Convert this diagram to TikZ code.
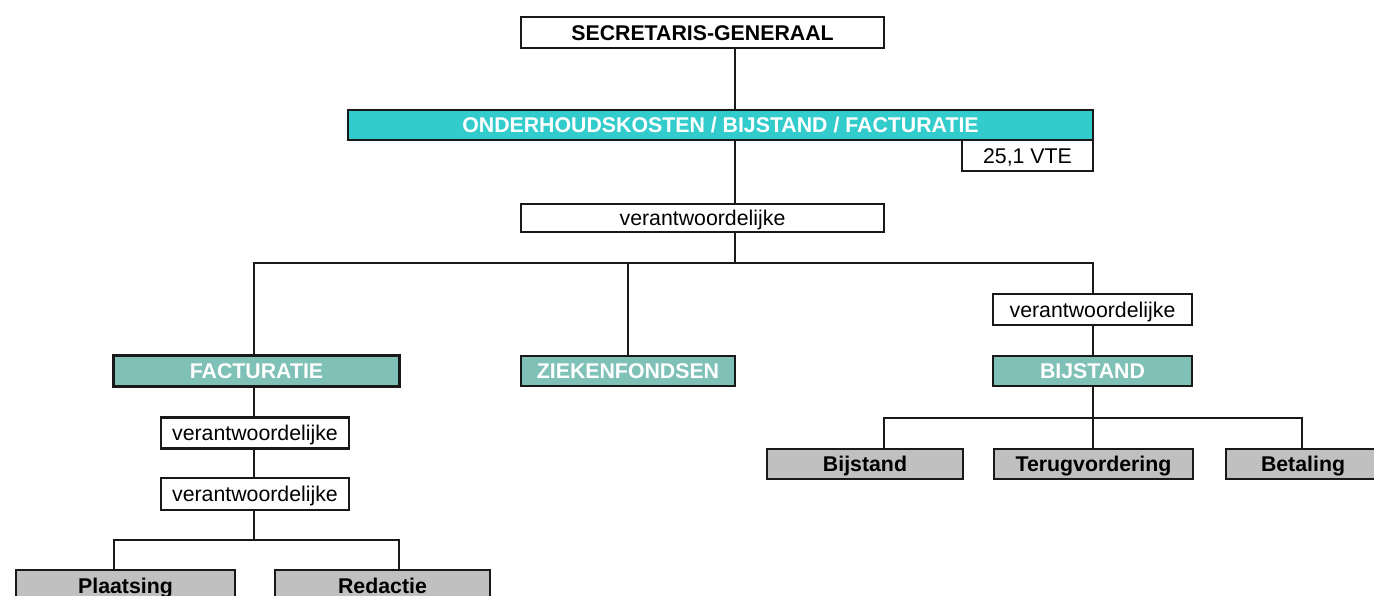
\documentclass[tikz,border=0pt]{standalone}
\usepackage{fontspec}
\setmainfont{Liberation Sans}
\definecolor{turq}{HTML}{33CCCC}
\definecolor{teal2}{HTML}{80C1B7}
\definecolor{grey2}{HTML}{C0C0C0}
\tikzset{
  box/.style={draw=black!90, line width=2.7pt, inner sep=0pt, align=center,
    font=\fontsize{21.3}{25}\selectfont, fill=white, text height=15.25pt, text depth=0pt},
  topbox/.style={box, font=\fontsize{21.3}{25}\selectfont\bfseries},
  mainbar/.style={box, fill=turq, text=white, font=\fontsize{21.3}{25}\selectfont\bfseries},
  dept/.style={box, fill=teal2, text=white, font=\fontsize{21.3}{25}\selectfont\bfseries},
  unit/.style={box, fill=grey2, font=\fontsize{21.3}{25}\selectfont\bfseries},
  conn/.style={draw=black!90, line width=2.7pt},
}
\begin{document}
\begin{tikzpicture}[x=1pt,y=-1pt]
\useasboundingbox (0,0) rectangle (1374,595);
\fill[white] (0,0) rectangle (1374,595);

\node[topbox, minimum width=363pt, minimum height=31pt] (sg) at (702.5,32.5) {SECRETARIS-GENERAAL};
\node[mainbar, minimum width=745pt, minimum height=30pt] (od) at (720.5,125) {ONDERHOUDSKOSTEN / BIJSTAND / FACTURATIE};
\node[box, minimum width=131pt, minimum height=31pt] (vte) at (1027.5,155.5) {25,1 VTE};
\node[box, minimum width=363pt, minimum height=28pt] (v1) at (702.5,218) {verantwoordelijke};

\node[dept, minimum width=286pt, minimum height=31pt] (fac) at (256.5,371) {FACTURATIE};
\node[dept, minimum width=214pt, minimum height=30pt] (zf) at (628,371) {ZIEKENFONDSEN};
\node[box, minimum width=199pt, minimum height=31pt] (v3) at (1092.5,309.5) {verantwoordelijke};
\node[dept, minimum width=199pt, minimum height=30pt] (bij) at (1092.5,371) {BIJSTAND};

\node[unit, minimum width=196pt, minimum height=30pt] (g1) at (865,464) {Bijstand};
\node[unit, minimum width=199pt, minimum height=30pt] (g2) at (1093.5,464) {Terugvordering};
\node[unit, minimum width=154pt, minimum height=30pt] (g3) at (1303,464) {Betaling};

\node[box, minimum width=188pt, minimum height=31pt] (vf1) at (255,433) {verantwoordelijke};
\node[box, minimum width=188pt, minimum height=32pt] (vf2) at (255,494) {verantwoordelijke};
\node[unit, minimum width=219pt, minimum height=31pt] (p1) at (125.5,585.5) {Plaatsing};
\node[unit, minimum width=215pt, minimum height=31pt] (p2) at (382.5,585.5) {Redactie};

% spine
\coordinate (hub) at (735,263);
\coordinate (hL) at (254,263);
\coordinate (hM) at (628,263);
\coordinate (hR) at (1093,263);
\draw[conn] (sg.south -| hub) -- (od.north -| hub);
\draw[conn] (od.south -| hub) -- (v1.north -| hub);
\draw[conn] (v1.south -| hub) -- (hub);
\draw[conn] (fac.north -| hL) -- (hL) -- (hR) -- (v3.north -| hR);
\draw[conn] (hM) -- (zf.north -| hM);
\draw[conn] (v3.south -| hR) -- (bij.north -| hR);

% bijstand branch
\coordinate (b0) at (1093,418);
\coordinate (b1) at (884,418);
\coordinate (b3) at (1302,418);
\draw[conn] (bij.south -| b0) -- (b0);
\draw[conn] (g1.north -| b1) -- (b1) -- (b3) -- (g3.north -| b3);
\draw[conn] (b0) -- (g2.north -| b0);

% facturatie branch
\coordinate (f0) at (254,540);
\coordinate (f1) at (114,540);
\coordinate (f2) at (399,540);
\draw[conn] (fac.south -| f0) -- (vf1.north -| f0);
\draw[conn] (vf1.south -| f0) -- (vf2.north -| f0);
\draw[conn] (vf2.south -| f0) -- (f0);
\draw[conn] (p1.north -| f1) -- (f1) -- (f2) -- (p2.north -| f2);
\end{tikzpicture}
\end{document}
